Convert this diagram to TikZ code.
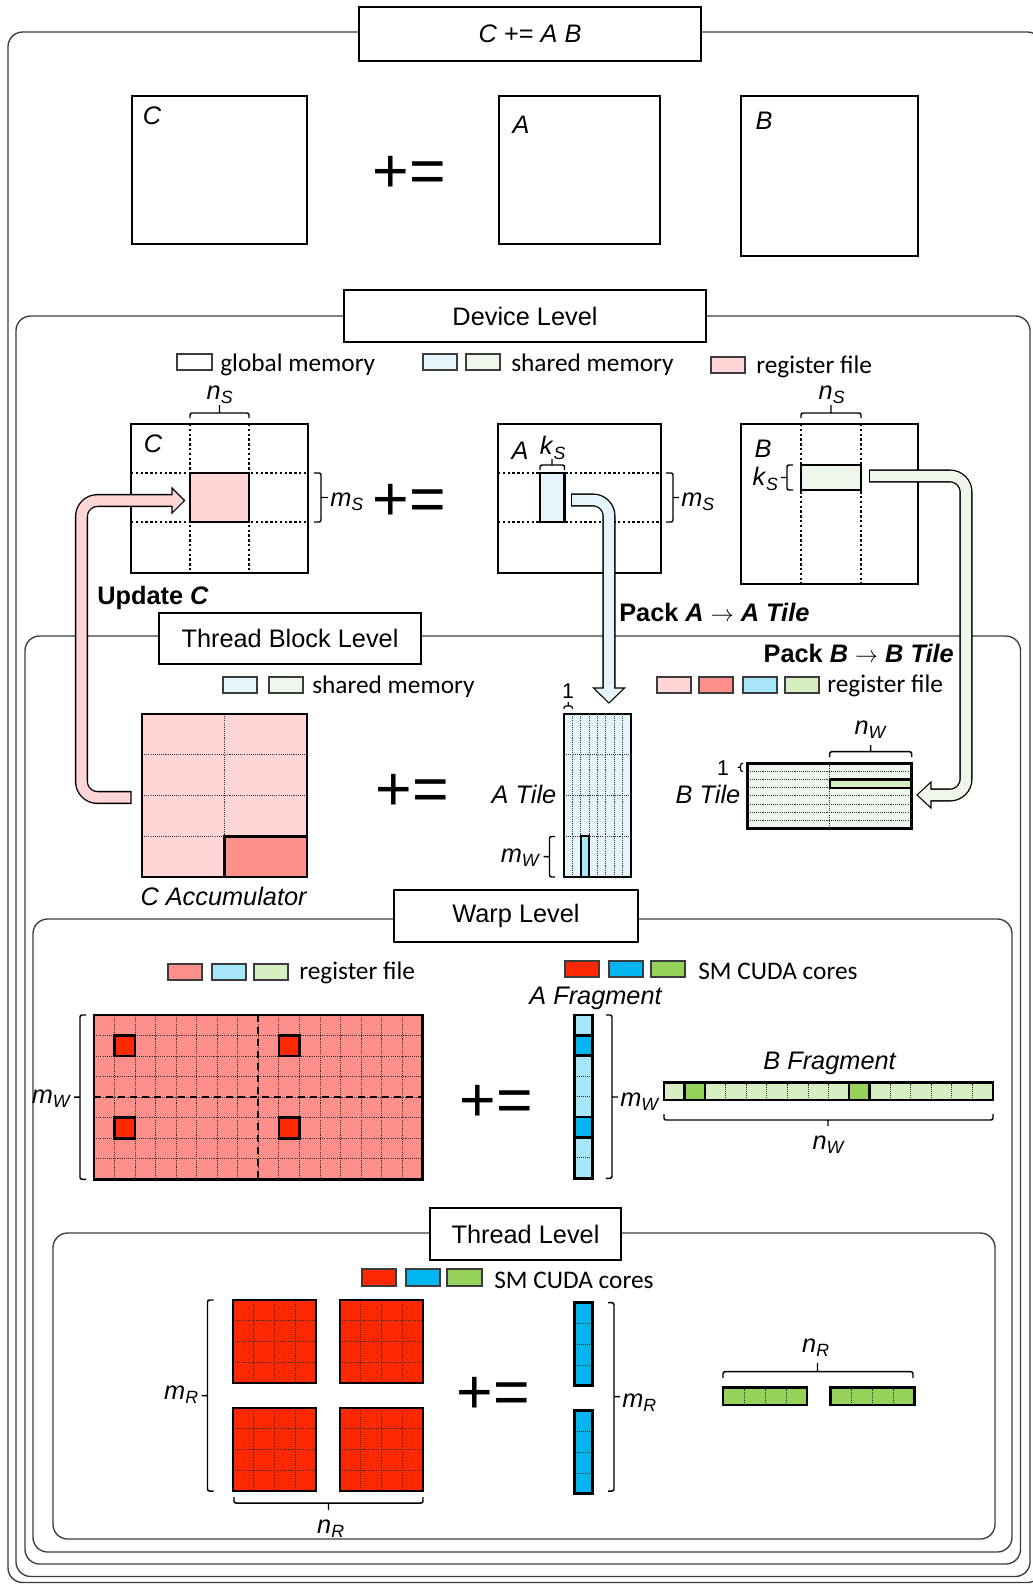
\documentclass[tikz,border=0pt]{standalone}
\usepackage{fontspec}
\setmainfont{Liberation Sans}
\newfontfamily\legfont{Carlito}
\usepackage{tikz}
\usetikzlibrary{positioning,calc}

\definecolor{regpink}{RGB}{255,213,213}
\definecolor{regsalmon}{RGB}{255,143,138}
\definecolor{regcyan}{RGB}{166,230,248}
\definecolor{reggreen}{RGB}{215,237,194}
\definecolor{shmcyan}{RGB}{228,246,251}
\definecolor{shmgreen}{RGB}{239,246,235}
\definecolor{smred}{RGB}{255,40,0}
\definecolor{smblue}{RGB}{0,182,240}
\definecolor{smgreen}{RGB}{150,210,90}
\definecolor{framegray}{RGB}{60,60,60}

\newcommand{\dimlab}[2]{\textit{#1}\textsubscript{\textit{#2}}}

\tikzset{
  frame/.style={draw=framegray, line width=1pt, rounded corners=11pt},
  titlebox/.style={draw, line width=1.5pt, fill=white, inner sep=0pt, font=\fontsize{19}{22}\selectfont},
  mat/.style={draw, line width=2pt},
  gridln/.style={draw=black!80, line width=0.6pt, dash pattern=on 0.8pt off 0.8pt},
  dotln/.style={draw, line width=1.8pt, dash pattern=on 1.8pt off 1.8pt},
  midln/.style={draw, line width=1.5pt, dash pattern=on 5pt off 4pt},
  brk/.style={draw, line width=1.1pt, rounded corners=1.5pt},
  legbox/.style={draw=framegray, line width=0.8pt},
  lab/.style={inner sep=0pt, font=\fontsize{19}{22}\selectfont},
  leg/.style={inner sep=0pt, anchor=west, font=\legfont\fontsize{19}{22}\selectfont},
  pluseq/.style={inner sep=0pt, font=\fontsize{47}{50}\selectfont},
  shaftout/.style={line width=9.8pt, rounded corners=12pt},
  shaftin/.style={line width=7.8pt, rounded corners=12pt, shorten <=0.9pt},
  headtip/.style={line width=0.8pt, line join=miter}
}

\begin{document}
\begin{tikzpicture}[x=0.75pt,y=0.75pt,yscale=-1,xscale=1]
\useasboundingbox (0,0) rectangle (1032,1584);

%Shape: nested level frames
\draw[frame] (8,32) rectangle (1042,1582.5);
\draw[frame] (16,316) rectangle (1030,1576.5);
\draw[frame] (25,636) rectangle (1020.5,1564);
\draw[frame] (33,919) rectangle (1012,1552);
\draw[frame] (53,1233) rectangle (995,1539);

%Shape: level titles
\node[titlebox, minimum width=256.5pt, minimum height=40.5pt] (ttlcab) at (530,34) {\textit{C} += \textit{A B}};
\node[titlebox, minimum width=271.5pt, minimum height=39pt] (ttldev) at (525,316) {Device Level};
\node[titlebox, minimum width=196.5pt, minimum height=38.25pt] (ttltb) at (290,638.5) {Thread Block Level};
\node[titlebox, minimum width=183.4pt, minimum height=39pt] (ttlwarp) at (516,916) {Warp Level};
\node[titlebox, minimum width=143.25pt, minimum height=39pt] (ttlthr) at (525.5,1234) {Thread Level};

%%%%%%%% whole problem
\draw[mat] (132,96) rectangle (307,244);
\draw[mat] (499,96) rectangle (660,244);
\draw[mat] (741,96) rectangle (918,256);
\node[lab] (topC) at (152,116) {\textit{C}};
\node[lab] (topA) at (521,125) {\textit{A}};
\node[lab] (topB) at (764,121) {\textit{B}};
\node[pluseq] (pe0) at (409,174) {+=};

%%%%%%%% device level
% legend
\draw[legbox] (177,354) rectangle (212,370);
\node[leg] (devglob) at (220,365) {global memory};
\draw[legbox, fill=shmcyan] (423,354) rectangle (457,370);
\draw[legbox, fill=shmgreen] (466,354) rectangle (500,370);
\node[leg] (devshm) at (511,365) {shared memory};
\draw[legbox, fill=regpink] (711,357) rectangle (745,373);
\node[leg] (devreg) at (756,367) {register file};

% C in global memory
\draw[dotln] (190,424) -- (190,573) (249,424) -- (249,573) (131,473) -- (308,473) (131,522) -- (308,522);
\draw[mat, fill=regpink] (190,473) rectangle (249,522);
\draw[mat] (131,424) rectangle (308,573);
\node[lab] (devC) at (153,444) {\textit{C}};
\draw[brk] (190,418) -- (190,413) -- (249,413) -- (249,418) (219.5,413) -- (219.5,405);
\node[lab] (devns1) at (220,395) {\dimlab{n}{S}};
\draw[brk] (314,473) -- (321,473) -- (321,522) -- (314,522) (321,497.5) -- (328,497.5);
\node[lab, anchor=west] (devms1) at (330,502) {\dimlab{m}{S}};
\node[pluseq] (pe1) at (409,502) {+=};

% A in global memory
\draw[dotln] (498,473) -- (661,473) (498,522) -- (661,522);
\draw[mat, fill=shmcyan] (540,473) rectangle (564.5,522);
\draw[mat] (498,424) rectangle (661,573);
\node[lab] (devA) at (520,451) {\textit{A}};
\draw[brk] (540,470) -- (540,465) -- (564.5,465) -- (564.5,470) (552,465) -- (552,459);
\node[lab] (devks1) at (553,448) {\dimlab{k}{S}};
\draw[brk] (666,473) -- (673,473) -- (673,522) -- (666,522) (673,497.5) -- (679,497.5);
\node[lab, anchor=west] (devms2) at (681,502) {\dimlab{m}{S}};

% B in global memory
\draw[dotln] (801,424) -- (801,584) (861,424) -- (861,584);
\draw[mat, fill=shmgreen] (801,465) rectangle (861,490);
\draw[mat] (741,424) rectangle (918,584);
\node[lab] (devB) at (763,449) {\textit{B}};
\draw[brk] (801,418) -- (801,413) -- (861,413) -- (861,418) (831,413) -- (831,405);
\node[lab] (devns2) at (832,395) {\dimlab{n}{S}};
\draw[brk] (793,465) -- (787,465) -- (787,490) -- (793,490) (787,477.5) -- (781,477.5);
\node[lab, anchor=east] (devks2) at (779,479) {\dimlab{k}{S}};

% step labels
\node[lab, anchor=west] (updlbl) at (97,598) {\textbf{Update \textit{C}}};
\node[lab, anchor=west] (packa) at (619,612) {\textbf{Pack \textit{A} $\rightarrow$ \textit{A Tile}}};
\node[lab, anchor=east] (packb) at (954,653) {\textbf{Pack \textit{B} $\rightarrow$ \textit{B Tile}}};

%%%%%%%% thread block level
% legend
\draw[legbox, fill=shmcyan] (223,677) rectangle (257,693);
\draw[legbox, fill=shmgreen] (269,677) rectangle (303,693);
\node[leg] (tbshm) at (312,687) {shared memory};
\draw[legbox, fill=regpink] (657,677) rectangle (691,693);
\draw[legbox, fill=regsalmon] (699,677) rectangle (733,693);
\draw[legbox, fill=regcyan] (743,677) rectangle (777,693);
\draw[legbox, fill=reggreen] (785,677) rectangle (819,693);
\node[leg] (tbreg) at (827,686) {register file};

% C accumulator
\fill[regpink] (142,714) rectangle (307,877);
\draw[gridln] (224.5,714) -- (224.5,877);
\foreach \j in {1,2,3} \draw[gridln] (142,{714+\j*40.75}) -- (307,{714+\j*40.75});
\draw[mat, fill=regsalmon] (224.5,836.25) rectangle (307,877);
\draw[mat] (142,714) rectangle (307,877);
\node[lab] (cacc) at (224,896) {\textit{C Accumulator}};
\node[pluseq] (pe2) at (412,792) {+=};

% A tile
\fill[shmcyan] (564,714) rectangle (631,877);
\foreach \i in {1,...,7} \draw[gridln] ({564+\i*8.375},714) -- ({564+\i*8.375},877);
\foreach \j in {1,2,3} \draw[gridln] (564,{714+\j*40.75}) -- (631,{714+\j*40.75});
\draw[mat, line width=1.6pt, fill=regcyan] (580.75,836.25) rectangle (589.1,877);
\draw[mat] (564,714) rectangle (631,877);
\node[lab, font=\fontsize{16}{18}\selectfont] (atone) at (568,691) {1};
\draw[brk, line width=0.9pt] (564,709) -- (564,706) -- (572.4,706) -- (572.4,709) (568.2,706) -- (568.2,702);
\node[lab] (atile) at (524,794) {\textit{A Tile}};
\draw[brk] (555,836.5) -- (549.5,836.5) -- (549.5,877) -- (555,877) (549.5,856.7) -- (543.5,856.7);
\node[lab, anchor=east] (atmw) at (541,858) {\dimlab{m}{W}};

% B tile
\fill[shmgreen] (747.5,763.3) rectangle (911.7,828.3);
\draw[gridln] (829.6,763.3) -- (829.6,828.3);
\foreach \j in {1,...,7} \draw[gridln] (747.5,{763.3+\j*8.125}) -- (911.7,{763.3+\j*8.125});
\draw[mat, line width=1.6pt, fill=reggreen] (829.6,779.55) rectangle (911.7,787.7);
\draw[mat] (747.5,763.3) rectangle (911.7,828.3);
\draw[brk] (829.6,757) -- (829.6,751.7) -- (911.7,751.7) -- (911.7,757) (870.6,751.7) -- (870.6,745);
\node[lab] (btnw) at (871,730) {\dimlab{n}{W}};
\node[lab, font=\fontsize{16}{18}\selectfont] (btone) at (723,768) {1};
\draw[brk, line width=0.9pt] (743,763.3) -- (740.5,763.3) -- (740.5,771.4) -- (743,771.4) (740.5,767.3) -- (737.5,767.3);
\node[lab] (btile) at (708,794) {\textit{B Tile}};

%%%%%%%% warp level
% legend
\draw[legbox, fill=regsalmon] (168,964) rectangle (202,980);
\draw[legbox, fill=regcyan] (212,964) rectangle (246,980);
\draw[legbox, fill=reggreen] (254,964) rectangle (288,980);
\node[leg] (wreg) at (299,973) {register file};
\draw[legbox, fill=smred] (565,961) rectangle (599,977);
\draw[legbox, fill=smblue] (609,961) rectangle (643,977);
\draw[legbox, fill=smgreen] (651,961) rectangle (685,977);
\node[leg] (wsm) at (698,971) {SM CUDA cores};

% C warp tile
\fill[regsalmon] (94,1015) rectangle (422.7,1179.3);
\foreach \i in {1,...,15} \draw[gridln] ({94+\i*20.54},1015) -- ({94+\i*20.54},1179.3);
\foreach \j in {1,...,7} \draw[gridln] (94,{1015+\j*20.54}) -- (422.7,{1015+\j*20.54});
\draw[midln] (258.3,1015) -- (258.3,1179.3) (94,1097.2) -- (422.7,1097.2);
\foreach \cx in {1,9} \foreach \cy in {1,5}
  \draw[mat, fill=smred] ({94+\cx*20.54},{1015+\cy*20.54}) rectangle ({94+(\cx+1)*20.54},{1015+(\cy+1)*20.54});
\draw[mat] (94,1015) rectangle (422.7,1179.3);
\draw[brk] (86,1015) -- (80,1015) -- (80,1179.3) -- (86,1179.3) (80,1097.2) -- (74,1097.2);
\node[lab, anchor=east] (wcmw) at (72,1099) {\dimlab{m}{W}};
\node[pluseq] (pe3) at (496,1103) {+=};

% A fragment
\fill[regcyan] (574.4,1015) rectangle (592.7,1178.3);
\foreach \j in {1,...,7} \draw[gridln] (574.4,{1015+\j*20.41}) -- (592.7,{1015+\j*20.41});
\foreach \cy in {1,5}
  \draw[mat, fill=smblue] (574.4,{1015+\cy*20.41}) rectangle (592.7,{1015+(\cy+1)*20.41});
\draw[mat] (574.4,1015) rectangle (592.7,1178.3);
\node[lab] (afrag) at (596,998) {\textit{A Fragment}};
\draw[brk] (606,1015) -- (612,1015) -- (612,1178.3) -- (606,1178.3) (612,1097) -- (618,1097);
\node[lab, anchor=west] (wamw) at (620,1102) {\dimlab{m}{W}};

% B fragment
\fill[reggreen] (664,1082.3) rectangle (993,1100);
\foreach \i in {1,...,15} \draw[gridln] ({664+\i*20.56},1082.3) -- ({664+\i*20.56},1100);
\foreach \cx in {1,9}
  \draw[mat, fill=smgreen] ({664+\cx*20.56},1082.3) rectangle ({664+(\cx+1)*20.56},1100);
\draw[mat] (664,1082.3) rectangle (993,1100);
\node[lab] (bfrag) at (830,1063) {\textit{B Fragment}};
\draw[brk] (664,1114) -- (664,1120) -- (993,1120) -- (993,1114) (828,1120) -- (828,1126);
\node[lab] (wbnw) at (829,1145) {\dimlab{n}{W}};

%%%%%%%% thread level
% legend
\draw[legbox, fill=smred] (362,1269) rectangle (396,1286);
\draw[legbox, fill=smblue] (406,1269) rectangle (440,1286);
\draw[legbox, fill=smgreen] (447,1269) rectangle (482,1286);
\node[leg] (tsm) at (494,1280) {SM CUDA cores};

% C thread tiles
\foreach \bx/\by in {233/1300, 340/1300, 233/1408, 340/1408} {
  \fill[smred] (\bx,\by) rectangle ({\bx+83},{\by+83});
  \foreach \k in {1,2,3} {
    \draw[gridln] ({\bx+\k*20.75},\by) -- ({\bx+\k*20.75},{\by+83});
    \draw[gridln] (\bx,{\by+\k*20.75}) -- ({\bx+83},{\by+\k*20.75});
  }
  \draw[mat] (\bx,\by) rectangle ({\bx+83},{\by+83});
}
\draw[brk] (213.5,1300) -- (207.5,1300) -- (207.5,1491) -- (213.5,1491) (207.5,1395.5) -- (201.5,1395.5);
\node[lab, anchor=east] (tcmr) at (199,1395) {\dimlab{m}{R}};
\draw[brk] (234,1497) -- (234,1503) -- (423,1503) -- (423,1497) (328.5,1503) -- (328.5,1510);
\node[lab] (tcnr) at (331,1529) {\dimlab{n}{R}};
\node[pluseq] (pe4) at (493,1395) {+=};

% A thread fragment
\foreach \ay in {1302.7,1410.7} {
  \fill[smblue] (574.4,\ay) rectangle (592.7,{\ay+83});
  \foreach \k in {1,2,3} \draw[gridln] (574.4,{\ay+\k*20.75}) -- (592.7,{\ay+\k*20.75});
  \draw[mat] (574.4,\ay) rectangle (592.7,{\ay+83});
}
\draw[brk] (608,1302.7) -- (614,1302.7) -- (614,1491) -- (608,1491) (614,1396.7) -- (620,1396.7);
\node[lab, anchor=west] (tamr) at (622,1403) {\dimlab{m}{R}};

% B thread fragment
\foreach \bx in {723,830.5} {
  \fill[smgreen] (\bx,1387.3) rectangle ({\bx+84},1405);
  \foreach \k in {1,2,3} \draw[gridln] ({\bx+\k*21},1387.3) -- ({\bx+\k*21},1405);
  \draw[mat] (\bx,1387.3) rectangle ({\bx+84},1405);
}
\draw[brk] (723,1378) -- (723,1371.7) -- (913,1371.7) -- (913,1378) (817.5,1371.7) -- (817.5,1363);
\node[lab] (tbnr) at (816,1348) {\dimlab{n}{R}};

%%%%%%%% data movement arrows
\coordinate (updtail) at (131.5,797.5);
\coordinate (updhead) at (172,500.5);
\coordinate (packatail) at (571,500);
\coordinate (packahead) at (609,688);
\coordinate (packbtail) at (869,476);
\coordinate (packbhead) at (931,795);

% update C
\draw[shaftout] (updtail) -- (81.5,797.5) -- (81.5,500.5) -- (updhead);
\draw[headtip, fill=regpink] ($(updhead)+(0,-12.5)$) -- ($(updhead)+(12.5,0)$) -- ($(updhead)+(0,12.5)$) -- cycle;
\draw[shaftin, regpink] (updtail) -- (81.5,797.5) -- (81.5,500.5) -- ($(updhead)+(2,0)$);

% pack A
\draw[shaftout] (packatail) -- (609,500) -- (packahead);
\draw[headtip, fill=shmcyan] ($(packahead)+(-15.5,0)$) -- ($(packahead)+(0,15)$) -- ($(packahead)+(15.5,0)$) -- cycle;
\draw[shaftin, shmcyan] (packatail) -- (609,500) -- ($(packahead)+(0,2)$);

% pack B
\draw[shaftout] (packbtail) -- (966,476) -- (966,795) -- (packbhead);
\draw[headtip, fill=shmgreen] ($(packbhead)+(0,-13)$) -- ($(packbhead)+(-14,0)$) -- ($(packbhead)+(0,13)$) -- cycle;
\draw[shaftin, shmgreen] (packbtail) -- (966,476) -- (966,795) -- ($(packbhead)+(-2,0)$);

\end{tikzpicture}
\end{document}
